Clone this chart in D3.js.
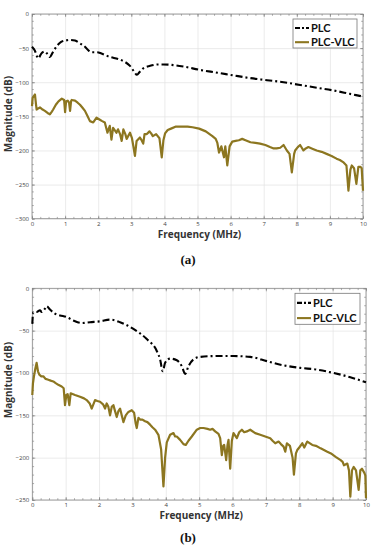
<!DOCTYPE html>
<html>
<head>
<meta charset="utf-8">
<script src="https://cdn.jsdelivr.net/npm/d3@7"></script>
<style>
  body { margin: 0; background: #fff; }
  svg { display: block; }
</style>
</head>
<body>
<div id="chart"></div>
<script>
// series as [frequency MHz, magnitude dB]
let plcA = [[0,-48],[0.08,-53],[0.19,-65],[0.28,-58],[0.39,-55],[0.47,-59],[0.54,-63],[0.62,-57],[0.75,-47],[0.88,-41],
    [1.0,-39],[1.15,-38],[1.3,-39],[1.45,-43],[1.6,-48],[1.72,-54],[1.8,-56],[1.96,-56],[2.1,-58],[2.36,-63],[2.6,-66],
    [2.8,-70],[2.96,-76],[3.08,-84],[3.17,-89],[3.25,-85],[3.35,-80],[3.57,-76],[3.8,-74],[3.97,-74],[4.3,-75],[4.58,-77],
    [5.08,-82],[5.6,-86],[6.09,-90],[6.6,-94],[7.1,-97],[7.6,-100],[8.1,-104],[8.6,-108],[9.1,-112],[9.6,-117],[10,-121]];

let vlcA = [[0,-135],[0.02,-123],[0.06,-120],[0.09,-118],[0.12,-132],[0.14,-140],[0.2,-138],[0.24,-137],[0.32,-140],
    [0.39,-142],[0.47,-145],[0.54,-147],[0.6,-143],[0.64,-140],[0.72,-133],[0.8,-128],[0.9,-124],[0.97,-126],[1.0,-144],
    [1.03,-128],[1.08,-127],[1.12,-130],[1.15,-142],[1.18,-128],[1.2,-126],[1.3,-127],[1.38,-130],[1.45,-133],[1.52,-137],
    [1.6,-142],[1.68,-150],[1.75,-157],[1.85,-159],[1.95,-152],[2.05,-155],[2.12,-157],[2.2,-159],[2.28,-174],[2.32,-168],
    [2.35,-164],[2.4,-184],[2.45,-167],[2.55,-174],[2.6,-169],[2.66,-176],[2.71,-186],[2.76,-169],[2.82,-176],[2.86,-183],
    [2.96,-174],[3.02,-182],[3.06,-193],[3.11,-208],[3.16,-186],[3.26,-181],[3.3,-184],[3.36,-190],[3.4,-176],[3.47,-176],
    [3.55,-172],[3.6,-175],[3.65,-179],[3.75,-176],[3.85,-182],[3.92,-210],[3.97,-185],[4.02,-175],[4.1,-170],[4.2,-168],
    [4.35,-165],[4.55,-165],[4.7,-165],[4.85,-166],[5.05,-168],[5.25,-172],[5.45,-179],[5.55,-183],[5.6,-189],[5.65,-203],
    [5.72,-194],[5.8,-210],[5.84,-194],[5.9,-222],[5.97,-194],[6.05,-187],[6.15,-186],[6.25,-185],[6.35,-183],[6.45,-185],
    [6.6,-188],[6.75,-189],[6.89,-190],[7.05,-192],[7.19,-195],[7.3,-197],[7.39,-197],[7.5,-196],[7.6,-192],[7.7,-200],
    [7.78,-205],[7.85,-232],[7.92,-205],[7.95,-200],[8.03,-195],[8.1,-192],[8.2,-200],[8.27,-197],[8.35,-195],[8.45,-197],
    [8.6,-200],[8.75,-202],[8.9,-205],[9.05,-208],[9.2,-212],[9.3,-214],[9.4,-217],[9.5,-222],[9.56,-259],[9.62,-228],
    [9.66,-222],[9.73,-226],[9.8,-249],[9.86,-224],[9.92,-224],[9.96,-226],[10,-259]];

let plcB = [[0,-42],[0.03,-28],[0.13,-28],[0.23,-26],[0.28,-28],[0.38,-24],[0.43,-21],[0.53,-25],[0.68,-30],[0.83,-32],
    [1.03,-34],[1.23,-38],[1.48,-41],[1.73,-40],[2.03,-39],[2.33,-37],[2.63,-40],[3.03,-48],[3.43,-60],[3.73,-74],[3.83,-84],
    [3.91,-98],[3.98,-88],[4.13,-83],[4.33,-85],[4.48,-92],[4.58,-101],[4.68,-92],[4.83,-84],[5.03,-81],[5.53,-80],[6.03,-80],
    [6.53,-81],[7.03,-86],[7.53,-91],[8.03,-94],[8.53,-96],[9.03,-100],[9.53,-105],[10,-111]];

let vlcB = [[0,-126],[0.02,-112],[0.05,-104],[0.09,-95],[0.13,-88],[0.17,-98],[0.21,-102],[0.27,-104],[0.33,-104],[0.4,-107],
    [0.48,-108],[0.55,-109],[0.63,-110],[0.7,-112],[0.78,-114],[0.88,-116],[0.94,-118],[0.98,-138],[1.02,-126],[1.06,-125],
    [1.11,-138],[1.15,-124],[1.28,-126],[1.43,-128],[1.55,-130],[1.63,-132],[1.72,-136],[1.78,-142],[1.88,-132],[1.95,-133],
    [2.03,-134],[2.12,-137],[2.18,-142],[2.23,-136],[2.28,-140],[2.33,-150],[2.38,-140],[2.43,-138],[2.48,-145],[2.53,-152],
    [2.58,-145],[2.63,-142],[2.68,-150],[2.73,-158],[2.8,-150],[2.88,-146],[2.98,-144],[3.05,-147],[3.1,-160],[3.13,-165],
    [3.18,-153],[3.23,-155],[3.3,-155],[3.38,-157],[3.45,-158],[3.53,-161],[3.6,-164],[3.68,-167],[3.78,-173],[3.86,-190],
    [3.93,-234],[3.98,-200],[4.03,-182],[4.13,-173],[4.23,-171],[4.28,-175],[4.33,-175],[4.43,-179],[4.53,-184],[4.6,-185],
    [4.68,-180],[4.78,-175],[4.93,-167],[5.03,-165],[5.13,-165],[5.25,-166],[5.33,-167],[5.4,-166],[5.48,-169],[5.58,-172],
    [5.63,-177],[5.68,-197],[5.72,-186],[5.75,-185],[5.81,-203],[5.85,-185],[5.88,-179],[5.93,-213],[5.98,-180],[6.03,-171],
    [6.13,-177],[6.2,-170],[6.28,-167],[6.35,-170],[6.43,-169],[6.53,-167],[6.68,-171],[6.83,-173],[6.98,-175],[7.13,-177],
    [7.2,-180],[7.28,-183],[7.38,-181],[7.45,-184],[7.53,-187],[7.58,-193],[7.63,-183],[7.72,-186],[7.8,-200],[7.84,-220],
    [7.9,-195],[7.94,-191],[8.0,-188],[8.09,-183],[8.15,-188],[8.24,-181],[8.39,-185],[8.5,-186],[8.64,-189],[8.84,-193],
    [8.95,-195],[9.09,-199],[9.24,-203],[9.3,-205],[9.34,-209],[9.44,-207],[9.49,-215],[9.53,-246],[9.58,-215],[9.63,-211],
    [9.7,-215],[9.78,-238],[9.83,-215],[9.88,-213],[9.95,-218],[9.98,-221],[10,-248]];

let xTicks = d3.range(0, 11, 1);
let yTicksA = d3.range(-300, 1, 50);
let yTicksB = d3.range(-250, 1, 50);
let legendNames = ["PLC", "PLC-VLC"];

let W = 376, H = 550;
let svg = d3.select("#chart").append("svg")
    .attr("width", W).attr("height", H)
    .style("background", "#fff");

let drawPanel = function(p) {
    let x = d3.scaleLinear().domain([0, 10]).range([p.left, p.right]);
    let y = d3.scaleLinear().domain(p.yDomain).range([p.bottom, p.top]);
    let g = svg.append("g");
    let h = p.bottom - p.top, w = p.right - p.left;

    // grid
    g.append("g").attr("transform", "translate(0," + p.bottom + ")")
        .call(d3.axisBottom(x).tickValues(xTicks).tickSize(-h).tickFormat(""))
        .call(s => s.select(".domain").remove())
        .selectAll("line").attr("stroke", "#e2e2e2").attr("stroke-width", 0.7);
    g.append("g").attr("transform", "translate(" + p.left + ",0)")
        .call(d3.axisLeft(y).tickValues(p.yTicks).tickSize(-w).tickFormat(""))
        .call(s => s.select(".domain").remove())
        .selectAll("line").attr("stroke", "#e2e2e2").attr("stroke-width", 0.7);

    // minor + major tick marks, inward on all four sides
    let minorX = d3.range(0, 10.001, 0.25);
    let minorY = d3.range(p.yDomain[0], 0.001, 10);
    let tickSets = [
        [d3.axisBottom(x).tickValues(minorX).tickSize(-1.8), "translate(0," + p.bottom + ")"],
        [d3.axisTop(x).tickValues(minorX).tickSize(-1.8), "translate(0," + p.top + ")"],
        [d3.axisLeft(y).tickValues(minorY).tickSize(-1.8), "translate(" + p.left + ",0)"],
        [d3.axisRight(y).tickValues(minorY).tickSize(-1.8), "translate(" + p.right + ",0)"],
        [d3.axisBottom(x).tickValues(xTicks).tickSize(-3), "translate(0," + p.bottom + ")"],
        [d3.axisTop(x).tickValues(xTicks).tickSize(-3), "translate(0," + p.top + ")"],
        [d3.axisLeft(y).tickValues(p.yTicks).tickSize(-3), "translate(" + p.left + ",0)"],
        [d3.axisRight(y).tickValues(p.yTicks).tickSize(-3), "translate(" + p.right + ",0)"]
    ];
    tickSets.forEach(function(t) {
        g.append("g").attr("transform", t[1])
            .call(t[0].tickFormat(""))
            .call(s => s.select(".domain").remove())
            .selectAll("line").attr("stroke", "#777").attr("stroke-width", 0.6);
    });

    // frame
    g.append("rect")
        .attr("x", p.left).attr("y", p.top).attr("width", w).attr("height", h)
        .attr("fill", "none").attr("stroke", "#888").attr("stroke-width", 0.8);

    // tick labels
    g.append("g").attr("transform", "translate(0," + p.bottom + ")")
        .call(d3.axisBottom(x).tickValues(xTicks).tickSize(0).tickPadding(3))
        .call(s => s.select(".domain").remove())
        .selectAll("text").attr("font-family", "Open Sans").attr("font-size", 6).attr("fill", "#444");
    g.append("g").attr("transform", "translate(" + p.left + ",0)")
        .call(d3.axisLeft(y).tickValues(p.yTicks).tickSize(0).tickPadding(3))
        .call(s => s.select(".domain").remove())
        .selectAll("text").attr("font-family", "Open Sans").attr("font-size", 6).attr("fill", "#444");

    // curves
    let line = d3.line().x(d => x(d[0])).y(d => y(d[1]));
    g.append("path").datum(p.vlc)
        .attr("d", line.curve(d3.curveLinear))
        .attr("fill", "none").attr("stroke", "#8c7620").attr("stroke-width", 2.2)
        .attr("stroke-linejoin", "round");
    g.append("path").datum(p.plc)
        .attr("d", line.curve(d3.curveMonotoneX))
        .attr("fill", "none").attr("stroke", "#000").attr("stroke-width", 2.1)
        .attr("stroke-dasharray", "7,3,2,3");

    // axis titles
    g.append("text")
        .attr("x", (p.left + p.right) / 2 + 2).attr("y", p.bottom + 19)
        .attr("text-anchor", "middle")
        .attr("font-family", "Open Sans").attr("font-weight", "bold")
        .attr("font-size", 10).attr("fill", "#333")
        .text("Frequency (MHz)");
    g.append("text")
        .attr("transform", "translate(12," + p.yLabel + ") rotate(-90)")
        .attr("text-anchor", "middle")
        .attr("font-family", "Open Sans").attr("font-weight", "bold")
        .attr("font-size", 10).attr("fill", "#333")
        .text("Magnitude (dB)");

    // legend
    let lg = g.append("g").attr("transform", "translate(" + (p.right - p.legW - 6) + "," + (p.top + 5) + ")");
    lg.append("rect").attr("width", p.legW).attr("height", p.legH)
        .attr("fill", "#fff").attr("stroke", "#777").attr("stroke-width", 0.8);
    let rowY = [p.legH * 0.31, p.legH * 0.8];
    lg.append("line").attr("x1", 2).attr("x2", 16).attr("y1", rowY[0]).attr("y2", rowY[0])
        .attr("stroke", "#000").attr("stroke-width", 2.1).attr("stroke-dasharray", "5,2,2,2");
    lg.append("line").attr("x1", 2).attr("x2", 16).attr("y1", rowY[1]).attr("y2", rowY[1])
        .attr("stroke", "#8c7620").attr("stroke-width", 2.1);
    lg.selectAll("text.leg").data(legendNames).enter().append("text")
        .attr("class", "leg")
        .attr("x", 18).attr("y", (d, i) => rowY[i])
        .attr("dy", "0.36em")
        .attr("font-family", "Lato").attr("font-weight", "bold")
        .attr("font-size", 11).attr("fill", "#111")
        .text(d => d);

    // caption
    svg.append("text")
        .attr("x", 188).attr("y", p.caption)
        .attr("text-anchor", "middle")
        .attr("font-family", "Liberation Serif").attr("font-weight", "bold")
        .attr("font-size", 13).attr("fill", "#111")
        .text(p.label);
};

drawPanel({ left: 32, right: 363, top: 14, bottom: 218.7, yDomain: [-300, 0], yTicks: yTicksA,
    plc: plcA, vlc: vlcA, yLabel: 114, legW: 64, legH: 29, caption: 264, label: "(a)" });
drawPanel({ left: 32.3, right: 366, top: 288.3, bottom: 500, yDomain: [-250, 0], yTicks: yTicksB,
    plc: plcB, vlc: vlcB, yLabel: 380, legW: 65, legH: 31, caption: 542, label: "(b)" });
</script>
</body>
</html>
